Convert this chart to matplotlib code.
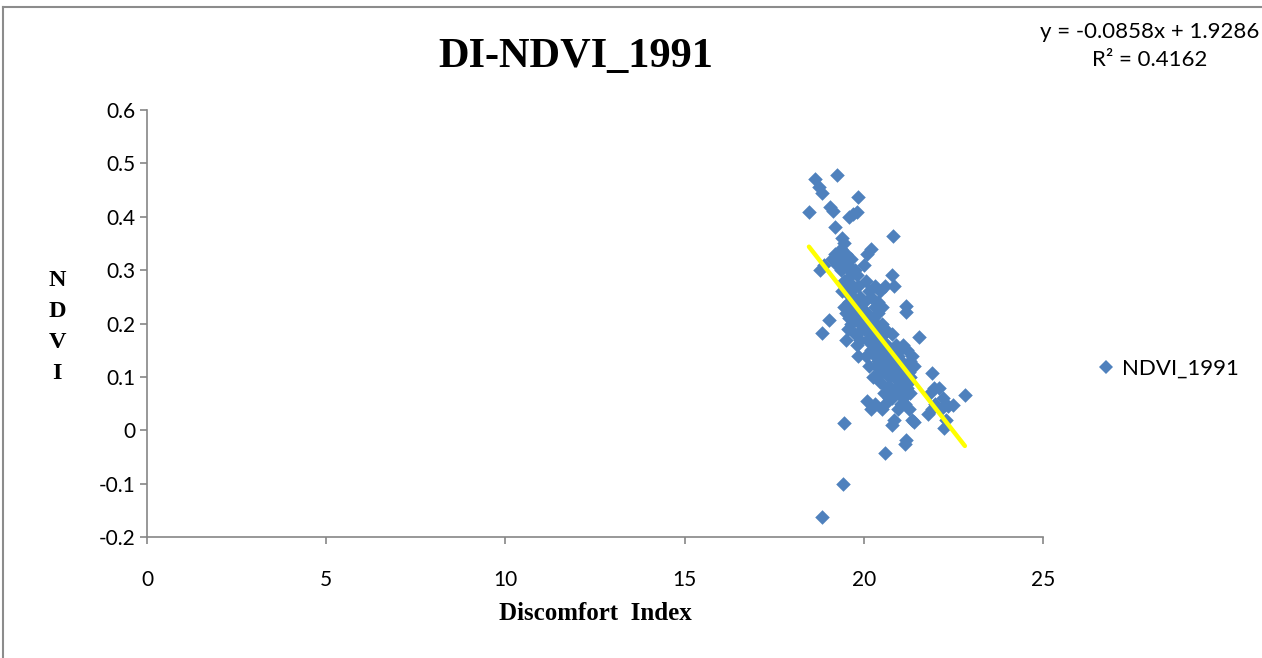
import matplotlib.pyplot as plt
from matplotlib.lines import Line2D

# Discomfort Index vs NDVI samples, 1991
di = [18.47, 18.64, 18.75, 18.82, 18.78, 18.83, 18.83, 18.90,
      19.03, 19.05, 19.15, 19.25, 19.20, 19.10, 19.20, 19.25,
      19.35, 19.40, 19.45, 19.50, 19.40, 19.35, 19.45, 19.40, 19.45, 19.50, 19.55, 19.50,
      19.45, 19.42, 19.60, 19.55, 19.60,
      19.84, 19.81, 19.70, 19.65, 19.75, 19.80, 19.70, 19.85, 19.70, 19.80, 19.90, 19.65,
      19.75, 19.80, 19.85, 19.90, 19.90, 19.95, 19.70, 19.85,
      20.00, 20.10, 20.20, 20.05, 20.15, 20.30, 20.00, 20.10, 20.20, 20.25, 20.00, 20.10,
      20.20, 20.30, 20.05, 20.15, 20.30, 20.25, 20.10, 20.20, 20.30, 20.30,
      20.45, 20.60, 20.40, 20.50, 20.60, 20.45, 20.55, 20.65, 20.40, 20.50, 20.60, 20.70,
      20.45, 20.55, 20.65, 20.59, 20.50, 20.70, 20.60,
      20.81, 20.80, 20.85, 20.80, 20.90, 20.80, 20.95, 20.85, 21.00, 20.90, 20.80, 21.00,
      20.85, 20.80, 20.95, 21.00,
      21.18, 21.18, 21.10, 21.20, 21.30, 21.15, 21.25, 21.35, 21.10, 21.20, 21.30, 21.40,
      21.15, 21.25, 21.35, 21.18, 21.15, 21.40,
      21.54, 21.90, 21.95, 21.85, 22.00, 21.90, 21.80,
      22.10, 22.20, 22.15, 22.24, 22.30, 22.49, 22.82, 22.35,
      19.55, 19.60, 19.65, 19.75, 19.90, 19.95, 20.00, 20.05, 20.10, 20.15, 20.20, 20.25,
      20.35, 20.35, 20.40, 20.45, 20.50, 20.55, 20.60, 20.65, 20.70, 20.75, 20.75, 20.85,
      20.90, 20.95, 21.05, 21.05, 21.10, 21.20, 21.25, 21.30, 19.60, 19.65, 19.55, 20.40,
      20.50, 20.35, 20.45, 20.70, 20.75, 21.05, 21.10]
ndvi = [0.409, 0.471, 0.455, 0.445, 0.300, 0.182, -0.162, 0.310,
        0.207, 0.418, 0.410, 0.479, 0.380, 0.320, 0.330, 0.310,
        0.340, 0.360, 0.350, 0.330, 0.320, 0.300, 0.280, 0.260, 0.230, 0.220, 0.190, 0.170,
        0.014, -0.101, 0.400, 0.255, 0.210,
        0.437, 0.409, 0.405, 0.320, 0.300, 0.290, 0.270, 0.270, 0.250, 0.240, 0.250, 0.200,
        0.180, 0.160, 0.140, 0.200, 0.170, 0.220, 0.230, 0.210,
        0.310, 0.330, 0.340, 0.280, 0.260, 0.270, 0.240, 0.220, 0.250, 0.210, 0.190, 0.170,
        0.150, 0.180, 0.140, 0.120, 0.140, 0.100, 0.055, 0.040, 0.050, 0.230,
        0.260, 0.270, 0.220, 0.200, 0.190, 0.170, 0.150, 0.160, 0.130, 0.110, 0.120, 0.140,
        0.090, 0.070, 0.080, -0.043, 0.040, 0.100, 0.050,
        0.364, 0.290, 0.270, 0.180, 0.160, 0.130, 0.140, 0.100, 0.120, 0.080, 0.060, 0.070,
        0.020, 0.010, 0.040, 0.150,
        0.233, 0.222, 0.160, 0.150, 0.130, 0.120, 0.110, 0.140, 0.090, 0.080, 0.070, 0.120,
        0.050, 0.040, 0.020, -0.018, -0.025, 0.015,
        0.175, 0.107, 0.080, 0.070, 0.050, 0.040, 0.030,
        0.080, 0.060, 0.040, 0.004, 0.020, 0.047, 0.066, 0.045,
        0.270, 0.240, 0.260, 0.220, 0.230, 0.190, 0.210, 0.200, 0.190, 0.200, 0.180, 0.160,
        0.200, 0.160, 0.180, 0.150, 0.160, 0.180, 0.140, 0.120, 0.120, 0.110, 0.150, 0.120,
        0.110, 0.100, 0.100, 0.130, 0.110, 0.100, 0.090, 0.100, 0.300, 0.290, 0.310, 0.240,
        0.230, 0.120, 0.110, 0.060, 0.080, 0.050, 0.060]

# linear trendline as reported
slope = -0.0858
intercept = 1.9286
r2 = 0.4162

x_ticks = [0, 5, 10, 15, 20, 25]
y_ticks = [-0.2, -0.1, 0, 0.1, 0.2, 0.3, 0.4, 0.5, 0.6]
y_tick_labels = ['-0.2', '-0.1', '0', '0.1', '0.2', '0.3', '0.4', '0.5', '0.6']

BLUE = '#4F81BD'
AXIS = '#868686'
LABEL_FONT = ['Lato', 'DejaVu Sans']
SERIF = ['Liberation Serif', 'DejaVu Serif']

fig = plt.figure(figsize=(12.62, 6.58), dpi=100, facecolor='white')
ax = fig.add_axes([147 / 1262, 121 / 658, 896 / 1262, 427 / 658])

ax.scatter(di, ndvi, marker='D', s=55, color=BLUE, linewidths=0, zorder=2)

x0, x1 = min(di), max(di)
ax.plot([x0, x1], [slope * x0 + intercept, slope * x1 + intercept],
        color='#FFFF00', lw=3.2, solid_capstyle='round', zorder=3)

ax.set_xlim(0, 25)
ax.set_ylim(-0.2, 0.6)
ax.set_xticks(x_ticks)
ax.set_xticklabels([str(t) for t in x_ticks])
ax.set_yticks(y_ticks)
ax.set_yticklabels(y_tick_labels)

for s in ['top', 'right']:
    ax.spines[s].set_visible(False)
for s in ['left', 'bottom']:
    ax.spines[s].set_color(AXIS)
    ax.spines[s].set_linewidth(1.2)
ax.tick_params(axis='both', direction='out', length=5, width=1.2, color=AXIS,
               labelsize=15)
ax.tick_params(axis='y', pad=3)
ax.tick_params(axis='x', pad=19)
for lab in ax.get_xticklabels() + ax.get_yticklabels():
    lab.set_family(LABEL_FONT)

# titles and axis labels
fig.text(576 / 1262, 1 - 57 / 658, 'DI-NDVI_1991', ha='center', va='center',
         fontsize=30.5, fontweight='bold', family=SERIF)
fig.text(595 / 1262, 1 - 614 / 658, 'Discomfort  Index', ha='center', va='center',
         fontsize=18, fontweight='bold', family=SERIF)
fig.text(57 / 1262, 1 - 327 / 658, 'N\nD\nV\nI', ha='center', va='center',
         fontsize=17.5, fontweight='bold', family=SERIF, linespacing=1.62)

# trendline equation
fig.text(1150 / 1262, 1 - 46 / 658,
         f'y = {slope}x + {intercept}\nR\u00b2 = {r2}', ha='center', va='center',
         fontsize=16, family=LABEL_FONT, linespacing=1.5, multialignment='center')

# legend
legend_handle = Line2D([0], [0], marker='D', color='none', markerfacecolor=BLUE,
                       markeredgewidth=0, markersize=7.5, label='NDVI_1991')
fig.legend(handles=[legend_handle], loc='center left',
           bbox_to_anchor=(1086 / 1262, 1 - 369 / 658), frameon=False,
           prop={'family': LABEL_FONT, 'size': 16}, handlelength=0.8,
           handletextpad=0.3, borderpad=0)

# outer chart border
fig.add_artist(Line2D([3 / 1262, 3 / 1262], [0, 1 - 7 / 658], color='#8c8c8c',
                      lw=1.5, transform=fig.transFigure))
fig.add_artist(Line2D([3 / 1262, 1], [1 - 7 / 658, 1 - 7 / 658], color='#8c8c8c',
                      lw=1.5, transform=fig.transFigure))

fig.savefig('out.png', dpi=100, facecolor='white')
